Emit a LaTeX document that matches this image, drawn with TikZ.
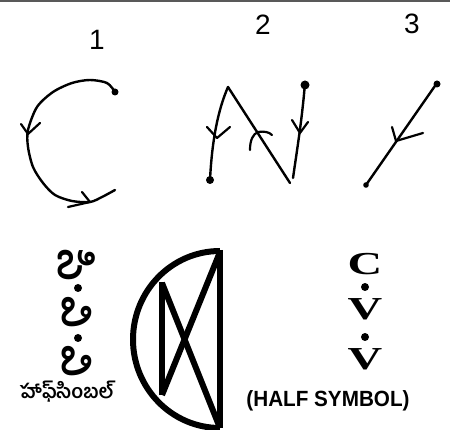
\documentclass[tikz,border=0pt]{standalone}
\usepackage{fontspec}
\setmainfont{Liberation Sans}
\newfontfamily\telugu[Script=Telugu]{Hind Guntur}
\newfontfamily\clar{Liberation Serif}
\begin{document}
\begin{tikzpicture}[x={(1pt,0)},y={(0,-1pt)},
  sk/.style={line width=2.4pt,line cap=round,line join=round},
  barb/.style={line width=2.2pt,line cap=round,line join=round},
  blob/.style={fill=black},
  thick sym/.style={line width=6pt,line cap=butt,line join=miter},
  digit/.style={font=\fontsize{28}{30}\selectfont,inner sep=0pt},
  telv/.style={font=\telugu\bfseries\fontsize{42}{44}\selectfont,inner sep=0pt,rotate=-90},
  cvv/.style={font=\clar\bfseries\fontsize{32}{32}\selectfont,inner sep=0pt,xscale=1.5},
]
\useasboundingbox (0,0) rectangle (450,430);
\fill[white] (0,0) rectangle (450,430);
\fill[black!65] (0,0) rectangle (450,2.5);

% numbers
\node[digit] (n1) at (97,40) {1};
\node[digit] (n2) at (263,25) {2};
\node[digit] (n3) at (412,24) {3};

% figure 1: C
\draw[sk] plot[smooth] coordinates {(115,92) (107,83) (90,80) (72,83) (53,92) (37,107) (28,130) (28,147) (33,167) (43,183) (55,195) (72,201) (90,202) (102,197) (115,190)};
\fill[blob] (115,92) circle (3.5);
\draw[barb] (21,124) -- (28,134) -- (40,123);
\draw[barb] (82,192) -- (90,202) -- (68,207);

% figure 2: N
\draw[sk] (210,180) .. controls (212,140) and (218,110) .. (228,87);
\draw[sk] (228,87) -- (290,183);
\draw[sk] (305,83) .. controls (302,120) and (297,150) .. (293,178);
\fill[blob] (210,180) circle (4);
\fill[blob] (305,85) circle (4.5);
\draw[barb] (207,127) -- (217,138) -- (230,127);
\draw[barb] (250,150) .. controls (250,140) and (253,134) .. (258,132) .. controls (264,131) and (269,132) .. (272,135);
\draw[barb] (292,120) -- (300,133) -- (308,122);

% figure 3: diagonal
\draw[sk] (437,83) -- (366,185);
\fill[blob] (437,84) circle (3.5);
\fill[blob] (366,185) circle (2.8);
\draw[barb] (392,127) -- (396,141) -- (423,133);

% half symbol
\draw[thick sym] (220,250) -- (220,428);
\draw[thick sym] (220,251) arc[start angle=-90,end angle=-270,x radius=87,y radius=88.5];
\draw[thick sym] (162,282) -- (162,395);
\draw[thick sym] (162,283) -- (220,428);
\draw[thick sym] (162,395) -- (220,252);

% telugu vertical text
\node[telv] (t1) at (77,266) {సి};
\node[telv] (t2) at (77,312) {వి};
\node[telv] (t3) at (77,361) {వి};
\fill (78,288) circle (4);
\fill (78,338) circle (4);
\node[font=\telugu\bfseries\fontsize{19.5}{22}\selectfont,inner sep=0pt] (th) at (67,392) {హాఫ్‌సింబల్};

% C.V.V
\node[cvv] (c1) at (365,264) {C};
\fill (365,287) circle (4);
\node[cvv] (v1) at (365,309) {V};
\fill (365,337) circle (4);
\node[cvv] (v2) at (365,359) {V};
\node[font=\bfseries\fontsize{22}{24}\selectfont,inner sep=0pt,xscale=0.94] (hs) at (328,401) {(HALF SYMBOL)};
\end{tikzpicture}
\end{document}
